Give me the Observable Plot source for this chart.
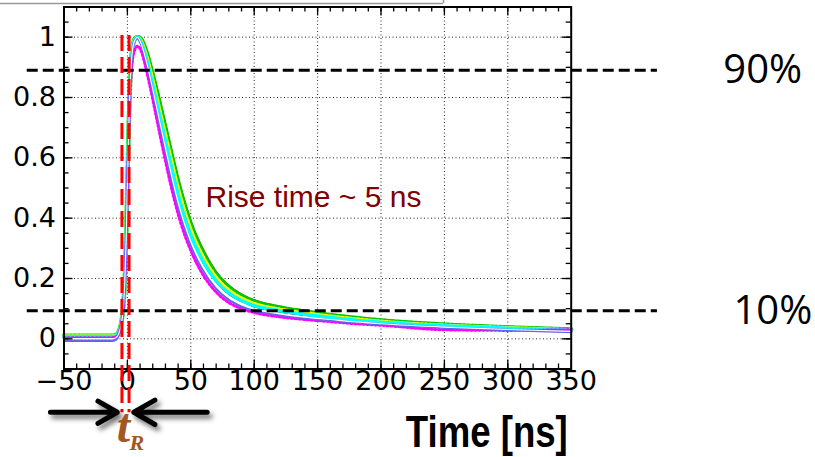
<!DOCTYPE html>
<html><head><meta charset="utf-8">
<script src="https://cdn.jsdelivr.net/npm/d3@7"></script>
<script src="https://cdn.jsdelivr.net/npm/@observablehq/plot@0.6"></script>
<style>html,body{margin:0;padding:0;background:#fff;} #chart{width:815px;height:457px;overflow:hidden}
.tr-arrows{filter:drop-shadow(3px 4px 2.5px rgba(0,0,0,0.55));}</style>
</head><body><div id="chart"></div>
<script>
// ---- data ----
const timeNs = [-50,-30,-12,-10,-8,-6,-5,-4,-3,-2,-1,0,1,2,3,4,6,8,10,12,14,16,18,20,22,25,30,35,40,45,50,60,70,80,90,100,120,140,160,180,200,250,300,350];
const seriesBlack = [0.005,0.005,0.006,0.008,0.015,0.035,0.055,0.085,0.135,0.22,0.36,0.55,0.73,0.86,0.94,0.98,1.0,1.0,0.99,0.968,0.94,0.909,0.875,0.838,0.8,0.743,0.65,0.56,0.473,0.4,0.34,0.25,0.188,0.148,0.124,0.107,0.09,0.078,0.068,0.06,0.053,0.041,0.033,0.027];
const seriesRed = [0.011,0.011,0.011,0.012,0.017,0.034,0.051,0.079,0.124,0.206,0.337,0.517,0.697,0.837,0.921,0.966,0.996,1.002,0.999,0.987,0.967,0.942,0.912,0.88,0.847,0.796,0.706,0.615,0.528,0.452,0.387,0.291,0.22,0.175,0.146,0.127,0.106,0.092,0.08,0.07,0.062,0.048,0.039,0.032];
const seriesGreen = [0.01,0.01,0.01,0.011,0.016,0.033,0.05,0.078,0.123,0.204,0.335,0.515,0.695,0.835,0.92,0.965,0.995,1.0,0.997,0.984,0.963,0.937,0.906,0.874,0.84,0.788,0.698,0.607,0.52,0.445,0.38,0.285,0.215,0.171,0.143,0.124,0.104,0.09,0.079,0.069,0.061,0.047,0.038,0.031];
const seriesYellow = [0.009,0.009,0.009,0.01,0.015,0.032,0.049,0.077,0.122,0.202,0.333,0.513,0.693,0.833,0.918,0.963,0.994,1.0,0.994,0.977,0.953,0.925,0.893,0.859,0.823,0.768,0.677,0.587,0.5,0.426,0.363,0.27,0.204,0.162,0.135,0.117,0.098,0.086,0.075,0.066,0.058,0.045,0.037,0.03];
const seriesCyan = [0.008,0.008,0.008,0.009,0.014,0.03,0.048,0.075,0.12,0.2,0.33,0.51,0.69,0.83,0.915,0.96,0.993,1.0,0.99,0.97,0.943,0.912,0.878,0.842,0.805,0.748,0.655,0.565,0.478,0.405,0.345,0.255,0.192,0.152,0.127,0.11,0.093,0.081,0.071,0.062,0.055,0.043,0.035,0.029];
const seriesWhite = [0.001,0.001,0.001,0.002,0.008,0.027,0.045,0.072,0.117,0.197,0.327,0.507,0.687,0.827,0.912,0.957,0.991,0.999,0.987,0.965,0.936,0.903,0.866,0.828,0.789,0.73,0.632,0.538,0.452,0.381,0.322,0.234,0.174,0.136,0.113,0.098,0.083,0.072,0.064,0.056,0.05,0.039,0.031,0.025];
const seriesBlue = [-0.006,-0.006,-0.006,-0.005,0.002,0.024,0.043,0.07,0.115,0.195,0.325,0.505,0.685,0.825,0.91,0.955,0.99,0.998,0.985,0.962,0.932,0.898,0.86,0.82,0.78,0.72,0.62,0.525,0.44,0.37,0.312,0.226,0.167,0.13,0.108,0.094,0.079,0.069,0.061,0.054,0.048,0.037,0.029,0.023];
const seriesMagenta = [0.004,0.004,0.004,0.005,0.01,0.028,0.045,0.07,0.112,0.19,0.315,0.49,0.665,0.8,0.88,0.925,0.96,0.97,0.962,0.94,0.908,0.872,0.834,0.794,0.752,0.69,0.59,0.496,0.414,0.347,0.293,0.21,0.155,0.12,0.1,0.087,0.073,0.064,0.057,0.05,0.045,0.03,0.028,0.03];

const xTicks = [-50,0,50,100,150,200,250,300,350];
const xTickLabels = ["\u221250","0","50","100","150","200","250","300","350"];
const yTicks = [0,0.2,0.4,0.6,0.8,1];
const yTickLabels = ["0","0.2","0.4","0.6","0.8","1"];
const thresholdLevels = [0.89, 0.093];
const thresholdLabels = ["90%", "10%"];
const riseTimeEdges = [-4.3, 1.3];
const annotationText = "Rise time ~ 5 ns";
const xTitle = "Time [ns]";

// ---- layout ----
const W = 815, H = 457, mL = 63.5, mR = 244.3, mT = 6.5, mB = 88.5;
const frameW = W - mL - mR, frameH = H - mT - mB;

const rows = vals => timeNs.map((t, i) => ({t, v: vals[i]}));
const curve = "monotone-x";
const line = (vals, opts) => Plot.line(rows(vals), {x: "t", y: "v", curve, ...opts});

const xMinor = d3.range(-40, 350, 10);
const yMinor = d3.range(-0.05, 1.1, 0.05);
const xGrid = xTicks.slice(1, -1);
const arrowSpecs = [{from: -60.7, to: -8.0}, {from: 62.9, to: 5.0}];

const chart = Plot.plot({
  width: W, height: H,
  marginLeft: mL, marginRight: mR, marginTop: mT, marginBottom: mB,
  style: {background: "white", fontFamily: "DejaVu Sans", overflow: "visible"},
  x: {domain: [-50, 350], axis: null},
  y: {domain: [-0.1, 1.1], axis: null},
  marks: [
    // grey edge of a box above the plot
    Plot.ruleY([1.1116], {x1: -101, x2: 249.3, stroke: "#999", strokeWidth: 1.5}),
    Plot.ruleX([249.3], {y1: 1.1116, y2: 1.2, stroke: "#999", strokeWidth: 1.5}),
    // dotted grid
    Plot.ruleX(xGrid, {stroke: "#000", strokeWidth: 1, strokeDasharray: "1,2.5", strokeOpacity: 0.85}),
    Plot.ruleY(yTicks, {stroke: "#000", strokeWidth: 1, strokeDasharray: "1,2.5", strokeOpacity: 0.85}),
    // curves
    line(seriesBlack, {stroke: "#000", strokeWidth: 1.5}),
    line(seriesRed, {stroke: "#ff0000", strokeWidth: 2.5}),
    line(seriesGreen, {stroke: "#00c800", strokeWidth: 4.5, strokeDasharray: "3,1.5"}),
    line(seriesYellow, {stroke: "#ffff00", strokeWidth: 3.5, strokeDasharray: "2,2"}),
    line(seriesCyan, {stroke: "#00ffff", strokeWidth: 3.5}),
    line(seriesMagenta, {stroke: "#ff00ff", strokeWidth: 3, strokeDasharray: "1.5,2.5"}),
    line(seriesBlue, {stroke: "#6464e6", strokeWidth: 2.5}),
    line(seriesWhite, {stroke: "#ffffff", strokeWidth: 1.2}),
    // inner ticks
    Plot.ruleX(xTicks, {insetTop: frameH - 9, stroke: "#000", strokeWidth: 1.3}),
    Plot.ruleX(xMinor, {insetTop: frameH - 5, stroke: "#000", strokeWidth: 1.3}),
    Plot.ruleX(xTicks, {insetBottom: frameH - 9, stroke: "#000", strokeWidth: 1.3}),
    Plot.ruleX(xMinor, {insetBottom: frameH - 5, stroke: "#000", strokeWidth: 1.3}),
    Plot.ruleY(yTicks, {insetRight: frameW - 9, stroke: "#000", strokeWidth: 1.3}),
    Plot.ruleY(yMinor, {insetRight: frameW - 5, stroke: "#000", strokeWidth: 1.3}),
    Plot.ruleY(yTicks, {insetLeft: frameW - 9, stroke: "#000", strokeWidth: 1.3}),
    Plot.ruleY(yMinor, {insetLeft: frameW - 5, stroke: "#000", strokeWidth: 1.3}),
    Plot.frame({stroke: "#000", strokeWidth: 2}),
    // tick labels
    Plot.text(xTicks, {x: d => d, text: (d, i) => xTickLabels[i], frameAnchor: "bottom", dy: 21, fontSize: 27, fill: "#000"}),
    Plot.text(yTicks, {y: d => d, text: (d, i) => yTickLabels[i], frameAnchor: "left", textAnchor: "end", dx: -8, fontSize: 27, fill: "#000"}),
    // 90% / 10% lines
    Plot.ruleY(thresholdLevels, {x1: -79, x2: 418, stroke: "#000", strokeWidth: 3, strokeDasharray: "11,5"}),
    Plot.text(thresholdLevels, {x: (d, i) => [501, 509][i], y: d => d, text: (d, i) => thresholdLabels[i], fontFamily: "Open Sans", fontSize: 40, fill: "#000"}),
    // rise-time edges
    Plot.ruleX(riseTimeEdges, {y1: 1.0055, y2: -0.245, stroke: "#ff0000", strokeWidth: 3, strokeDasharray: "16,6"}),
    // arrows
    Plot.arrow(arrowSpecs, {x1: "from", x2: "to", y1: -0.2435, y2: -0.2435, stroke: "#000", strokeWidth: 5, headLength: 10, headAngle: 60, className: "tr-arrows"}),
    // labels
    Plot.text([annotationText], {x: 61.6, y: 0.469, text: d => d, textAnchor: "start", fontFamily: "Liberation Sans", fontSize: 30, fill: "#800000"}),
    Plot.text([xTitle], {x: 347.3, y: -0.312, text: d => d, textAnchor: "end", fontFamily: "Liberation Sans", fontWeight: "bold", fontSize: 44, fill: "#000", className: "xtitle"}),
    Plot.text(["t"], {x: -3.1, y: -0.2926, text: d => d, fontFamily: "Liberation Serif", fontStyle: "italic", fontWeight: "bold", fontSize: 48, fill: "#a4561f"}),
    Plot.text(["R"], {x: 7.4, y: -0.345, text: d => d, fontFamily: "Liberation Serif", fontStyle: "italic", fontWeight: "bold", fontSize: 22, fill: "#a4561f"})
  ]
});
chart.querySelectorAll(".xtitle text").forEach(t => {
  t.setAttribute("textLength", 162);
  t.setAttribute("lengthAdjust", "spacingAndGlyphs");
});
document.getElementById("chart").appendChild(chart);
</script>
</body></html>
